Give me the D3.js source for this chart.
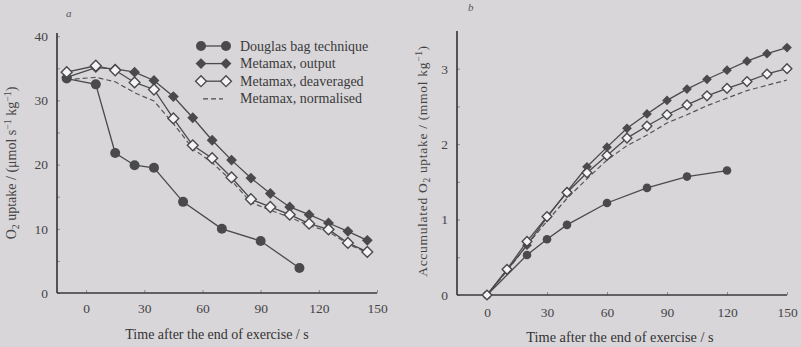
<!DOCTYPE html>
<html>
<head>
<meta charset="utf-8">
<script src="https://cdn.jsdelivr.net/npm/d3@7"></script>
<style>
  body { margin: 0; background: #d8d6d9; }
  svg { display: block; font-family: "Liberation Serif", "DejaVu Serif", serif; }
</style>
</head>
<body>
<div id="chart"></div>
<script>
// ---- panel a: O2 uptake after exercise
const timeA = [-10, 5, 15, 25, 35, 45, 55, 65, 75, 85, 95, 105, 115, 125, 135, 145];
const outputA = [33.6, 35.1, 34.9, 34.4, 33.1, 30.6, 27.3, 23.8, 20.7, 17.9, 15.5, 13.4, 12.2, 10.9, 9.6, 8.2];
const deavA = [34.4, 35.4, 34.7, 32.8, 31.7, 27.2, 23.0, 21.0, 18.0, 14.6, 13.4, 12.2, 10.8, 9.9, 7.8, 6.4];
const normA = [33.2, 33.6, 32.9, 31.2, 29.9, 26.4, 22.5, 20.3, 17.5, 14.1, 12.9, 11.8, 10.5, 9.6, 7.6, 6.3];
const timeDouglasA = [-10, 5, 15, 25, 35, 50, 70, 90, 110];
const douglasA = [33.4, 32.5, 21.8, 19.9, 19.5, 14.2, 10.0, 8.1, 3.9];

// ---- panel b: accumulated O2 uptake
const timeB = [0, 10, 20, 30, 40, 50, 60, 70, 80, 90, 100, 110, 120, 130, 140, 150];
const outputB = [0, 0.33, 0.66, 1.03, 1.37, 1.70, 1.96, 2.21, 2.40, 2.58, 2.73, 2.86, 2.98, 3.10, 3.20, 3.28];
const deavB = [0, 0.34, 0.71, 1.04, 1.36, 1.62, 1.85, 2.08, 2.24, 2.39, 2.52, 2.64, 2.74, 2.83, 2.93, 3.00];
const normB = [0, 0.32, 0.66, 0.98, 1.28, 1.54, 1.79, 1.98, 2.12, 2.28, 2.39, 2.51, 2.61, 2.71, 2.78, 2.85];
const timeDouglasB = [0, 20, 30, 40, 60, 80, 100, 120];
const douglasB = [0, 0.53, 0.74, 0.93, 1.22, 1.42, 1.57, 1.65];

const xTicks = [0, 30, 60, 90, 120, 150];
const yTicksA = [0, 10, 20, 30, 40];
const yTicksB = [0, 1, 2, 3];

const legendNames = ["Douglas bag technique", "Metamax, output", "Metamax, deaveraged", "Metamax, normalised"];

const ink = "#4a4a4c";

const svg = d3.select("#chart").append("svg")
    .attr("width", 801)
    .attr("height", 347);

svg.append("rect").attr("width", 801).attr("height", 347).attr("fill", "#d8d6d9");

const diamond = d3.symbol().type(d3.symbolDiamond2);

function drawPanel(opt) {
    const g = svg.append("g");
    const x = d3.scaleLinear().domain([-15, 150]).range(opt.xr);
    const y = d3.scaleLinear().domain(opt.yd).range(opt.yr);

    // minor ticks (unlabelled)
    const yAxis = d3.axisLeft(y).tickValues(opt.yMinor).tickSize(-3).tickPadding(9)
        .tickFormat(d => opt.yTicks.includes(d) ? d : "");
    const gy = g.append("g").attr("transform", `translate(${opt.xr[0]},0)`).call(yAxis);
    const xAxis = d3.axisBottom(x).tickValues(xTicks).tickSize(-3).tickPadding(opt.xPad);
    const gx = g.append("g").attr("transform", `translate(0,${opt.yr[0]})`).call(xAxis);

    [gx, gy].forEach(a => {
        a.select(".domain").remove();
        a.selectAll(".tick line").attr("stroke", "#8a8a8c");
        a.selectAll(".tick text").attr("fill", "#444446")
            .style("font-family", "Liberation Serif").style("font-size", "13.5px");
    });
    g.append("line").attr("x1", opt.xr[0]).attr("x2", opt.xr[0])
        .attr("y1", opt.yr[0]).attr("y2", opt.yr[1])
        .attr("stroke", "#333").attr("stroke-width", 1.6);
    g.append("line").attr("x1", opt.xr[0]).attr("x2", opt.xr[1])
        .attr("y1", opt.yr[0]).attr("y2", opt.yr[0])
        .attr("stroke", "#3a3a3a").attr("stroke-width", 1.5);

    const line = d3.line().x(d => x(d[0])).y(d => y(d[1]));

    // normalised (dashed)
    g.append("path").datum(d3.zip(opt.time, opt.norm))
        .attr("d", line).attr("fill", "none").attr("stroke", "#555557")
        .attr("stroke-width", 1.2).attr("stroke-dasharray", "5,3");

    // douglas bag
    const dz = d3.zip(opt.timeD, opt.douglas);
    g.append("path").datum(dz).attr("d", line).attr("fill", "none")
        .attr("stroke", ink).attr("stroke-width", 1.3);

    // output
    const oz = d3.zip(opt.time, opt.output);
    g.append("path").datum(oz).attr("d", line).attr("fill", "none")
        .attr("stroke", ink).attr("stroke-width", 1.3);

    // deaveraged
    const vz = d3.zip(opt.time, opt.deav);
    g.append("path").datum(vz).attr("d", line).attr("fill", "none")
        .attr("stroke", ink).attr("stroke-width", 1.3);

    g.selectAll(".dg").data(dz).join("circle")
        .attr("cx", d => x(d[0])).attr("cy", d => y(d[1]))
        .attr("r", opt.r).attr("fill", ink);
    g.selectAll(".op").data(oz).join("path")
        .attr("transform", d => `translate(${x(d[0])},${y(d[1])})`)
        .attr("d", diamond.size(opt.ds)).attr("fill", ink);
    g.selectAll(".dv").data(vz).join("path")
        .attr("transform", d => `translate(${x(d[0])},${y(d[1])})`)
        .attr("d", diamond.size(opt.ds)).attr("fill", "#f4f4f4")
        .attr("stroke", ink).attr("stroke-width", 1.4);

    // panel letter
    g.append("text").attr("x", opt.letter[0]).attr("y", opt.letter[1])
        .attr("font-style", "italic").attr("font-size", 11).attr("fill", "#555")
        .text(opt.letterText);

    // x title
    g.append("text").attr("x", (opt.xr[0] + opt.xr[1]) / 2 + opt.xtOff).attr("y", opt.xtY)
        .attr("text-anchor", "middle").attr("font-size", opt.xtSize).attr("fill", "#333")
        .text("Time after the end of exercise / s");

    // y title
    const yt = g.append("text")
        .attr("transform", `translate(${opt.ytX},${(opt.yr[0] + opt.yr[1]) / 2 + opt.ytOff}) rotate(-90)`)
        .attr("text-anchor", "middle").attr("font-size", opt.ytSize)
        .attr("letter-spacing", opt.ytSpace).attr("fill", "#444");
    opt.yTitle.forEach(p => {
        const t = yt.append("tspan").text(p[0]);
        if (p[1] === "sub") t.attr("dy", 3).attr("font-size", opt.ytSize * 0.7);
        if (p[1] === "sup") t.attr("dy", -5).attr("font-size", opt.ytSize * 0.7);
        if (p[1] === "base") t.attr("dy", p[2]);
    });
    return { x, y };
}

drawPanel({
    xr: [57, 377], yd: [0, 40.5], yr: [293, 33],
    yTicks: yTicksA, yMinor: [0, 5, 10, 15, 20, 25, 30, 35, 40],
    xPad: 10, r: 5, ds: 75,
    time: timeA, output: outputA, deav: deavA, norm: normA,
    timeD: timeDouglasA, douglas: douglasA,
    letter: [66, 17], letterText: "a",
    xtOff: 0, xtY: 339, xtSize: 14, ytX: 16, ytOff: 0, ytSize: 14, ytSpace: 0,
    yTitle: [["O"], ["2", "sub"], [" uptake / (\u03bcmol s", "base", -3], ["\u22121", "sup"], [" kg", "base", 5], ["\u22121", "sup"], [")", "base", 5]]
});

drawPanel({
    xr: [457, 787], yd: [0, 3.5], yr: [295, 31],
    yTicks: yTicksB, yMinor: [0, 0.5, 1, 1.5, 2, 2.5, 3],
    xPad: 12, r: 4.3, ds: 60,
    time: timeB, output: outputB, deav: deavB, norm: normB,
    timeD: timeDouglasB, douglas: douglasB,
    letter: [468, 11], letterText: "b",
    xtOff: -2, xtY: 342, xtSize: 14.3, ytX: 427, ytOff: -2, ytSize: 13.5, ytSpace: 0.7,
    yTitle: [["Accumulated O"], ["2", "sub"], [" uptake / (mmol kg", "base", -3], ["\u22121", "sup"], [")", "base", 5]]
});

// legend (panel a)
const lg = svg.append("g").attr("transform", "translate(201,46)");
const rowH = 17.6;
legendNames.forEach((name, i) => {
    const row = lg.append("g").attr("transform", `translate(0,${i * rowH})`);
    const ln = row.append("line").attr("x1", i === 3 ? 2 : 0).attr("x2", i === 3 ? 22 : 25)
        .attr("stroke", ink).attr("stroke-width", 1.3);
    if (i === 3) ln.attr("stroke-dasharray", "5,3");
    [0, 25].forEach(cx => {
        if (i === 0) row.append("circle").attr("cx", cx).attr("r", 5).attr("fill", ink);
        if (i === 1) row.append("path").attr("transform", `translate(${cx},0)`)
            .attr("d", diamond.size(75)).attr("fill", ink);
        if (i === 2) row.append("path").attr("transform", `translate(${cx},0)`)
            .attr("d", diamond.size(75)).attr("fill", "#f4f4f4").attr("stroke", ink).attr("stroke-width", 1.4);
    });
    row.append("text").attr("x", 39).attr("y", 4.5).attr("font-size", 14).attr("fill", "#3a3a3a").text(name);
});
</script>
</body>
</html>
